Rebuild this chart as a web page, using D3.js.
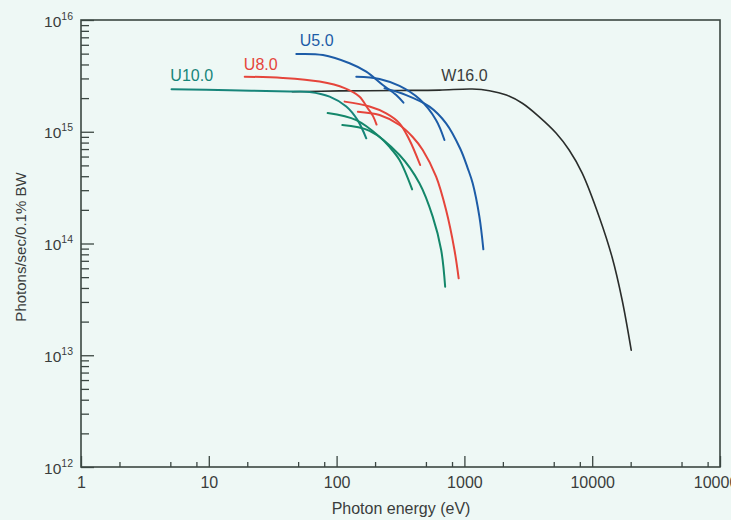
<!DOCTYPE html>
<html>
<head>
<meta charset="utf-8">
<script src="https://cdn.jsdelivr.net/npm/d3@7"></script>
<style>
  html, body { margin: 0; padding: 0; background: #eef8f5; }
  svg { display: block; }
  text { font-family: "Liberation Sans", Arial, Helvetica, sans-serif; }
</style>
</head>
<body>
<svg id="chart" width="731" height="520"></svg>
<script>
// Spectral brightness tuning curves: photon energy (eV) vs photons/sec/0.1% BW

// W16.0 wiggler
const w16Energy = [45, 105, 310, 640, 1150, 1570, 2130, 2840, 3850, 5230, 6600, 8350, 11350, 14300, 17150, 20200];
const w16Flux   = [2.28e15, 2.32e15, 2.34e15, 2.36e15, 2.41e15, 2.33e15, 2.13e15, 1.80e15, 1.36e15, 9.7e14, 6.87e14, 4.27e14, 1.73e14, 7.57e13, 3.12e13, 1.11e13];

// U5.0 undulator harmonics
const u5h1Energy = [48.4, 78.2, 126.4, 170.6, 230, 292.7, 333.6];
const u5h1Flux   = [4.96e15, 4.86e15, 4.10e15, 3.45e15, 2.62e15, 2.13e15, 1.82e15];
const u5h3Energy = [142.6, 216.8, 310.6, 444.8, 601, 698];
const u5h3Flux   = [3.11e15, 2.97e15, 2.57e15, 1.96e15, 1.27e15, 8.44e14];
const u5h5Energy = [237, 350.5, 533, 719, 930, 1062, 1161, 1310, 1407];
const u5h5Flux   = [2.45e15, 2.13e15, 1.68e15, 1.19e15, 7.01e14, 4.71e14, 3.46e14, 1.74e14, 8.87e13];

// U8.0 undulator harmonics
const u8h1Energy = [19.1, 37.8, 73.6, 115.5, 151.3, 174.6, 192.8, 205.4];
const u8h1Flux   = [3.11e15, 3.03e15, 2.81e15, 2.46e15, 2.06e15, 1.63e15, 1.38e15, 1.16e15];
const u8h3Energy = [115.5, 181.1, 244.5, 310.6, 371.7, 450.8];
const u8h3Flux   = [1.86e15, 1.68e15, 1.46e15, 1.19e15, 8.44e14, 5.04e14];
const u8h5Energy = [146.7, 216.8, 310.6, 392.4, 472, 601, 719, 836, 902];
const u8h5Flux   = [1.51e15, 1.41e15, 1.15e15, 9.03e14, 6.87e14, 3.96e14, 1.99e14, 8.75e13, 4.88e13];

// U10.0 undulator harmonics
const u10h1Energy = [5.11, 14.6, 42.9, 61.5, 88.2, 119.1, 145.9, 170.6];
const u10h1Flux   = [2.40e15, 2.35e15, 2.29e15, 2.27e15, 2.06e15, 1.68e15, 1.27e15, 8.74e14];
const u10h3Energy = [85.1, 142.6, 216.8, 259.4, 310.6, 390];
const u10h3Flux   = [1.47e15, 1.27e15, 9.03e14, 7.31e14, 5.59e14, 3.05e14];
const u10h5Energy = [110.8, 181.1, 310.6, 444.8, 565, 658, 707];
const u10h5Flux   = [1.15e15, 1.02e15, 6.19e14, 3.46e14, 1.74e14, 8.75e13, 4.10e13];

// Axis ticks
const xMajorTicks = [1, 10, 100, 1000, 10000, 100000];
const xTickLabels = ["1", "10", "100", "1000", "10000", "100000"];
const yMajorTicks = [1e12, 1e13, 1e14, 1e15, 1e16];
const yTickExponents = ["12", "13", "14", "15", "16"];

const colors = {
  blue: "#1d5ca7",
  red: "#e5453b",
  green: "#14876a",
  teal: "#17857a",
  black: "#2a2d2b",
  axis: "#3b4742",
  text: "#3a3d3c"
};

const series = [
  { e: w16Energy, f: w16Flux, color: colors.black, width: 1.6 },
  { e: u10h1Energy, f: u10h1Flux, color: colors.teal, width: 2 },
  { e: u10h3Energy, f: u10h3Flux, color: colors.green, width: 2 },
  { e: u10h5Energy, f: u10h5Flux, color: colors.green, width: 2 },
  { e: u8h1Energy, f: u8h1Flux, color: colors.red, width: 2 },
  { e: u8h3Energy, f: u8h3Flux, color: colors.red, width: 2 },
  { e: u8h5Energy, f: u8h5Flux, color: colors.red, width: 2 },
  { e: u5h1Energy, f: u5h1Flux, color: colors.blue, width: 2 },
  { e: u5h3Energy, f: u5h3Flux, color: colors.blue, width: 2 },
  { e: u5h5Energy, f: u5h5Flux, color: colors.blue, width: 2 }
];

const labels = [
  { text: "U10.0", e: 5.0, f: 2.85e15, color: colors.teal },
  { text: "U8.0", e: 18.8, f: 3.55e15, color: colors.red },
  { text: "U5.0", e: 51.5, f: 5.9e15, color: colors.blue },
  { text: "W16.0", e: 660, f: 2.85e15, color: colors.text }
];

const svg = d3.select("#chart");
const plotLeft = 81, plotRight = 720, plotTop = 20, plotBottom = 467;

const x = d3.scaleLog().domain([1, 100000]).range([plotLeft, plotRight]);
const y = d3.scaleLog().domain([1e12, 1e16]).range([plotBottom, plotTop]);

svg.append("rect").attr("width", 731).attr("height", 520).attr("fill", "#eef8f5");

// minor tick positions: 2,5,8 per decade on x; 2..9 per decade on y
const xMinor = [];
for (let d = 1; d < 100000; d *= 10) [2, 5, 8].forEach(m => xMinor.push(d * m));
const yMinor = [];
for (let k = 12; k < 16; k++) for (let m = 2; m <= 9; m++) yMinor.push(m * Math.pow(10, k));

// X axis (ticks pointing into the plot)
const xAxisMinor = d3.axisBottom(x).tickValues(xMinor).tickSize(-5).tickFormat("");
const xAxisMajor = d3.axisBottom(x).tickValues(xMajorTicks).tickSize(-11)
  .tickFormat((d, i) => xTickLabels[i]);

const gxMinor = svg.append("g").attr("transform", `translate(0,${plotBottom})`).call(xAxisMinor);
const gxMajor = svg.append("g").attr("transform", `translate(0,${plotBottom})`).call(xAxisMajor);
[gxMinor, gxMajor].forEach(g => {
  g.select(".domain").remove();
  g.selectAll(".tick line").attr("stroke", colors.axis).attr("stroke-width", 1.3);
});
gxMajor.attr("font-size", null).attr("font-family", null);
gxMajor.selectAll(".tick text")
  .attr("font-size", 16).attr("fill", colors.text)
  .attr("dy", null)
  .attr("y", 21);

// Y axis (ticks pointing into the plot)
const yAxisMinor = d3.axisLeft(y).tickValues(yMinor).tickSize(-8).tickFormat("");
const yAxisMajor = d3.axisLeft(y).tickValues(yMajorTicks).tickSize(-13).tickFormat("");
const gyMinor = svg.append("g").attr("transform", `translate(${plotLeft},0)`).call(yAxisMinor);
const gyMajor = svg.append("g").attr("transform", `translate(${plotLeft},0)`).call(yAxisMajor);
[gyMinor, gyMajor].forEach(g => {
  g.select(".domain").remove();
  g.selectAll(".tick line").attr("stroke", colors.axis).attr("stroke-width", 1.3);
});

// y tick labels as 10 with superscript exponent
const yLab = svg.append("g");
yMajorTicks.forEach((v, i) => {
  const t = yLab.append("text")
    .attr("x", 73).attr("y", y(v) + 6.5)
    .attr("text-anchor", "end")
    .attr("fill", colors.text);
  t.append("tspan").attr("font-size", 15.5).text("10");
  t.append("tspan").attr("font-size", 10.5).attr("dy", -7).text(yTickExponents[i]);
});

// Plot frame
svg.append("rect")
  .attr("x", plotLeft).attr("y", plotTop)
  .attr("width", plotRight - plotLeft).attr("height", plotBottom - plotTop)
  .attr("fill", "none").attr("stroke", colors.axis).attr("stroke-width", 1.6);

// Curves
const line = d3.line()
  .x(d => x(d[0]))
  .y(d => y(d[1]))
  .curve(d3.curveCatmullRom.alpha(0.5));

svg.append("g").selectAll("path")
  .data(series)
  .join("path")
  .attr("d", s => line(s.e.map((e, i) => [e, s.f[i]])))
  .attr("fill", "none")
  .attr("stroke", s => s.color)
  .attr("stroke-width", s => s.width)
  .attr("stroke-linecap", "round");

// Series labels
svg.append("g").selectAll("text")
  .data(labels)
  .join("text")
  .attr("x", d => x(d.e))
  .attr("y", d => y(d.f))
  .attr("font-size", 16)
  .attr("fill", d => d.color)
  .text(d => d.text);

// Axis titles
svg.append("text")
  .attr("x", 401).attr("y", 514)
  .attr("text-anchor", "middle")
  .attr("font-size", 16)
  .attr("fill", colors.text)
  .text("Photon energy (eV)");

svg.append("text")
  .attr("transform", "translate(26,247) rotate(-90)")
  .attr("text-anchor", "middle")
  .attr("font-size", 15)
  .attr("fill", colors.text)
  .text("Photons/sec/0.1% BW");
</script>
</body>
</html>
